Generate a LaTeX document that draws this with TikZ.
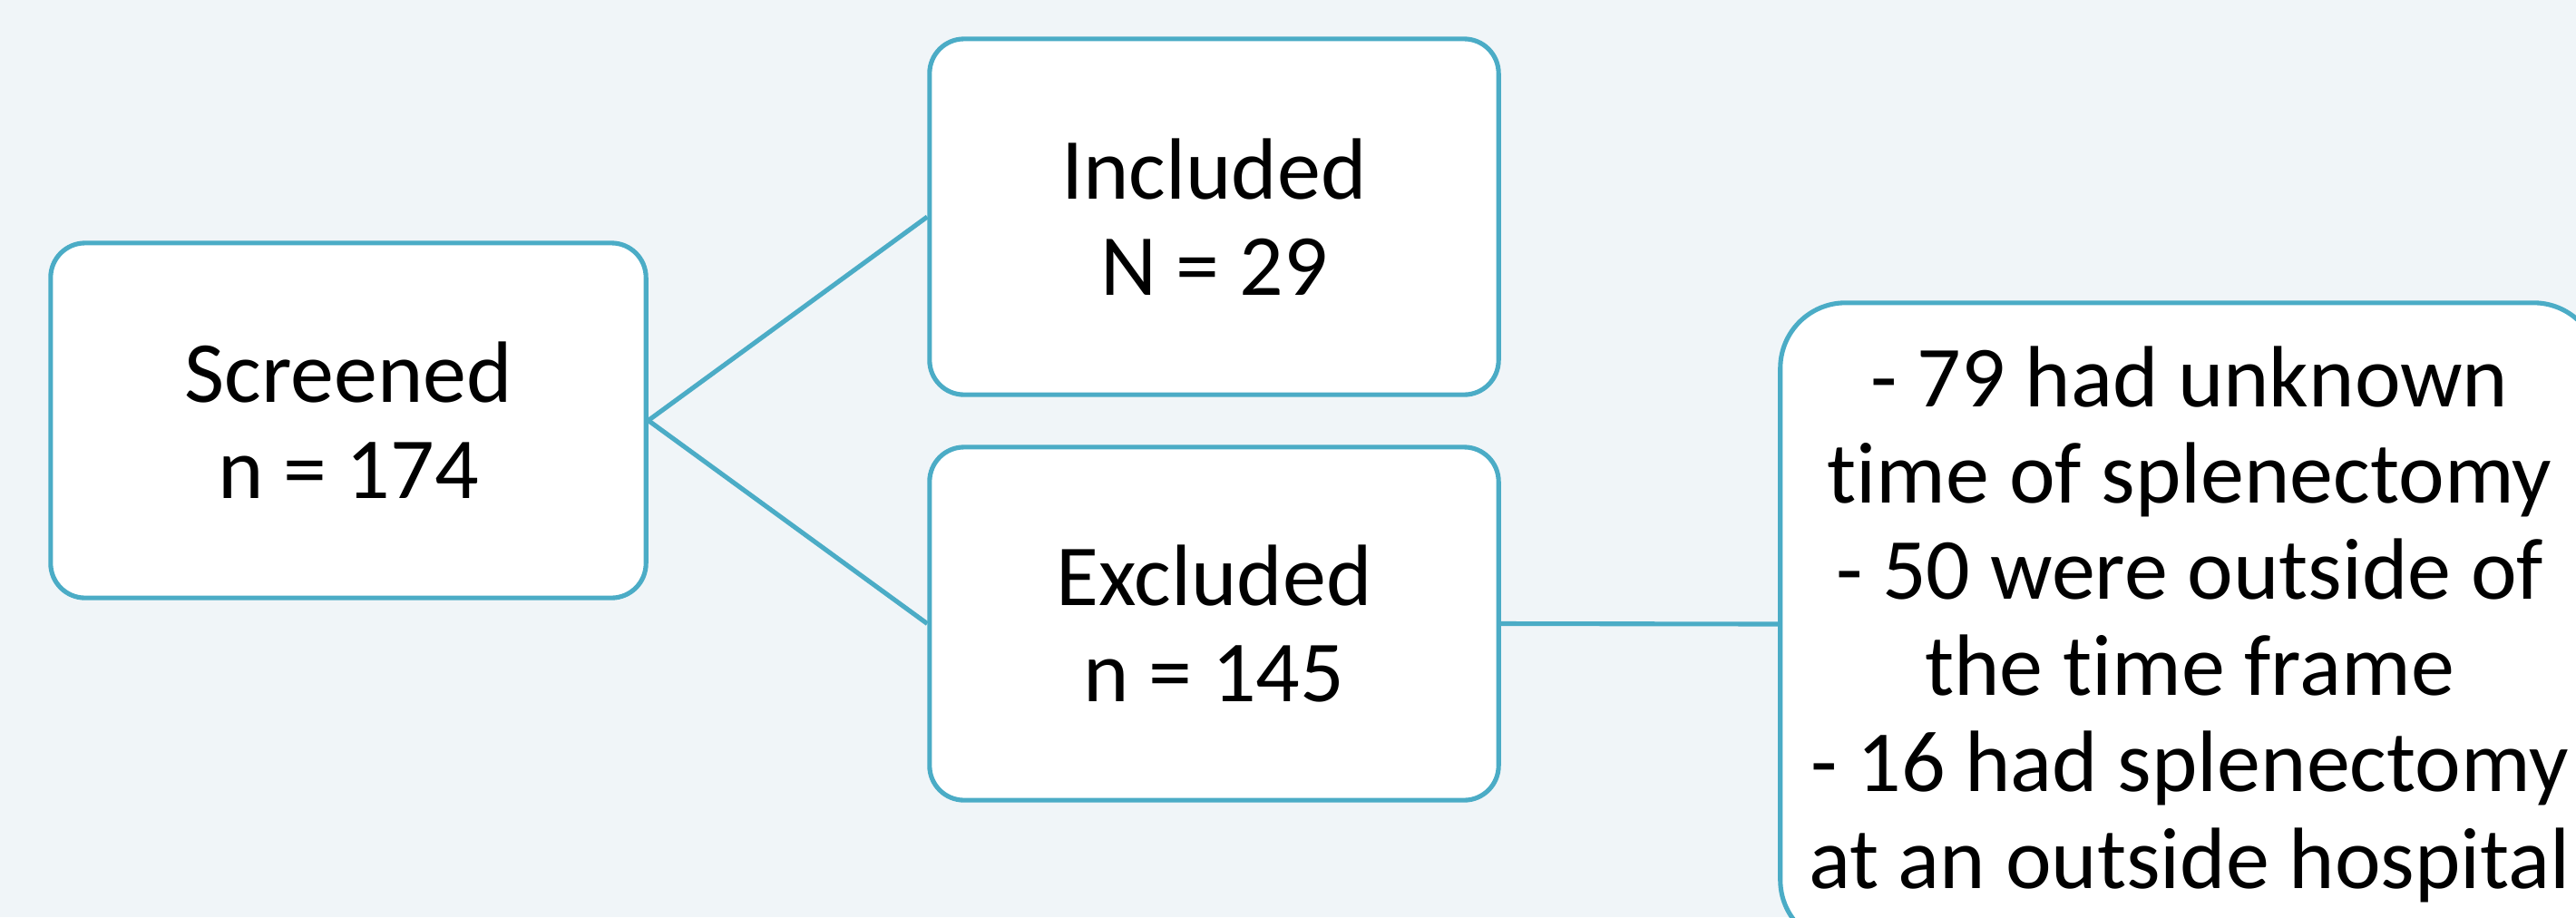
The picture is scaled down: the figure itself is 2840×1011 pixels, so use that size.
\documentclass[tikz,border=0pt]{standalone}
\usepackage{fontspec}
\setmainfont{Carlito}[Ligatures=NoCommon]
\definecolor{bgc}{RGB}{240,245,248}
\definecolor{linec}{RGB}{75,172,198}
\begin{document}
\begin{tikzpicture}[x=0.01cm,y=-0.01cm,
  box/.style={draw=linec, fill=white, line width=1.45pt, rounded corners=0.38cm,
    align=center, inner sep=0pt, font=\fontsize{27.3}{30.2}\selectfont},
  conn/.style={draw=linec, line width=1.45pt}]
\clip (0,0) rectangle (2840,1011);
\fill[bgc] (0,0) rectangle (2840,1011);
\node[box, minimum width=6.56cm, minimum height=3.91cm] (scr) at (384,463.5) {Screened\\n = 174};
\node[box, minimum width=6.27cm, minimum height=3.92cm] (inc) at (1338.5,239) {Included\\N = 29};
\node[box, minimum width=6.27cm, minimum height=3.89cm] (exc) at (1338.5,687.5) {Excluded\\n = 145};
\node[box, rounded corners=0.72cm, minimum width=9.02cm, minimum height=7.08cm] (rea) at (2414,688)
  {- 79 had unknown\\time of splenectomy\\- 50 were outside of\\the time frame\\- 16 had splenectomy\\at an outside hospital};
\draw[conn] (scr.east) -- (inc.west);
\draw[conn] (scr.east) -- (exc.west);
\draw[conn] (exc.east) -- (rea.west);
\end{tikzpicture}
\end{document}
